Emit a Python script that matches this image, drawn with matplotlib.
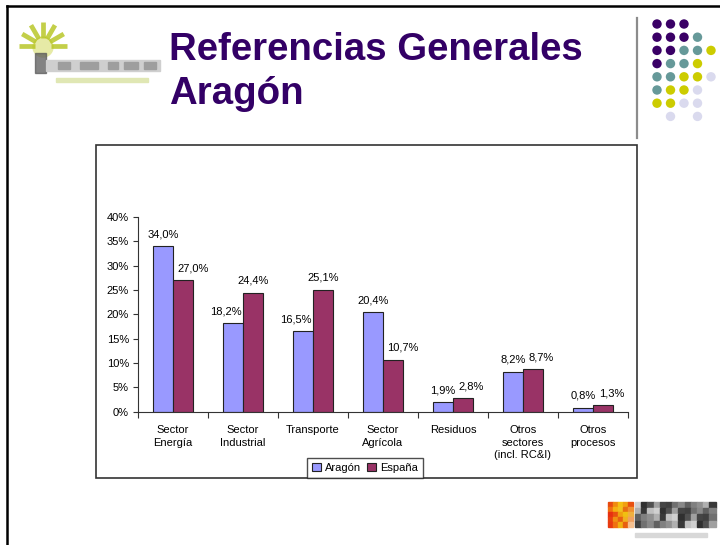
import matplotlib
matplotlib.use("Agg")
import matplotlib.pyplot as plt
import numpy as np
from matplotlib.patches import Rectangle

plt.rcParams['font.family'] = ['Liberation Sans', 'DejaVu Sans']

categories = ["Sector\nEnergía", "Sector\nIndustrial", "Transporte", "Sector\nAgrícola",
              "Residuos", "Otros\nsectores\n(incl. RC&I)", "Otros\nprocesos"]
aragon = [34.0, 18.2, 16.5, 20.4, 1.9, 8.2, 0.8]
espana = [27.0, 24.4, 25.1, 10.7, 2.8, 8.7, 1.3]
yticks = [0, 5, 10, 15, 20, 25, 30, 35, 40]

W, H = 720, 545
fig = plt.figure(figsize=(7.2, 5.45), dpi=100)

# overlay in pixel coordinates for the slide decorations
deco = fig.add_axes([0, 0, 1, 1], zorder=0)
deco.set_xlim(0, W)
deco.set_ylim(H, 0)
deco.axis('off')

# slide border
deco.plot([7, 7], [6, H], color='black', lw=1.8)
deco.plot([7, W], [6, 6], color='black', lw=1.8)

# title
purple = '#330066'
deco.text(169, 60, "Referencias Generales", fontsize=27.6, fontweight='bold',
          color=purple, va='baseline', ha='left')
deco.text(169, 104, "Aragón", fontsize=27.6, fontweight='bold',
          color=purple, va='baseline', ha='left')

# grey divider and dot pattern top right
deco.plot([637, 637], [18, 138], color='#8c8c8c', lw=1.6)
P, T, Y, L = '#3a0066', '#669999', '#cccc00', '#dadaee'
dot_rows = [
    [P, P, P, None, None],
    [P, P, P, T, None],
    [P, P, T, T, Y],
    [P, T, T, Y, None],
    [T, T, Y, Y, L],
    [T, Y, Y, L, None],
    [Y, Y, L, L, None],
    [None, L, None, L, None],
]
col_x = [657, 670.5, 684, 697.5, 711]
for r, row in enumerate(dot_rows):
    for c, col in enumerate(row):
        if col:
            deco.scatter(col_x[c], 24 + r * 13.2, s=46, color=col, edgecolors='none')

# top-left logo (blurred fan + text bar)
cx, cy = 43, 46
for ang in np.radians([0, 30, 60, 90, 120, 150, 180]):
    deco.plot([cx + 8 * np.cos(ang), cx + 24 * np.cos(ang)],
              [cy - 8 * np.sin(ang), cy - 24 * np.sin(ang)],
              color='#b4c31c', lw=3.4, solid_capstyle='butt', alpha=0.8)
deco.add_patch(plt.Circle((cx, cy + 1), 10, color='#e6eaa6'))
deco.add_patch(Rectangle((35, 53), 11, 20, color='#5a5a5a', alpha=0.75))
deco.add_patch(Rectangle((46, 60), 114, 11, color='#cfcfcf'))
for x0, w in [(58, 12), (80, 18), (108, 10), (124, 14), (144, 12)]:
    deco.add_patch(Rectangle((x0, 62), w, 7, color='#9e9e9e'))
deco.add_patch(Rectangle((56, 78), 92, 4, color='#e0e7b4'))

# bottom-right logo
warm = np.array([
    ['#e84a10', '#f08a10', '#f5c010', '#f0a010', '#e85010'],
    ['#f07010', '#f5b010', '#f0c020', '#e87010', '#f09030'],
    ['#e83010', '#e85010', '#f0a010', '#f0c010', '#f0b040'],
    ['#e84010', '#f09010', '#e86010', '#f0b020', '#f0a060'],
    ['#e83a10', '#f07010', '#f0b010', '#e86010', '#f5c090'],
])
for r in range(5):
    for c in range(5):
        deco.add_patch(Rectangle((608 + c * 5, 502 + r * 5), 5, 5, color=warm[r, c]))
greys = ['#d0d0d0', '#404040', '#909090', '#303030', '#707070', '#b0b0b0', '#505050',
         '#888888', '#383838', '#a0a0a0', '#606060', '#c0c0c0', '#454545', '#808080']
for r in range(4):
    for c in range(13):
        deco.add_patch(Rectangle((635 + c * 6.2, 502 + r * 6.2), 6.2, 6.2,
                                 color=greys[(r * 5 + c * 3) % len(greys)]))
deco.add_patch(Rectangle((635, 533), 72, 4, color='#d8d8d8'))

# chart frame
deco.add_patch(Rectangle((96, 145), 541, 333, fill=False, edgecolor='#333333', lw=1.2))

# chart
fs = 8
ax = fig.add_axes([138 / W, 1 - 411.7 / H, 490 / W, (411.7 - 217) / H], zorder=1)
ax.set_facecolor('none')
x = np.arange(len(categories))
bw = 20 / 70
b1 = ax.bar(x - bw / 2, aragon, bw, color='#9999ff', edgecolor='#222222', lw=0.8, label='Aragón')
b2 = ax.bar(x + bw / 2, espana, bw, color='#993366', edgecolor='#222222', lw=0.8, label='España')
labels = []
for bars, vals in [(b1, aragon), (b2, espana)]:
    row = []
    for b, v in zip(bars, vals):
        row.append(ax.annotate(f"{v:.1f}%".replace('.', ','),
                               (b.get_x() + b.get_width() / 2, v),
                               xytext=(0, 5), textcoords='offset points',
                               ha='center', va='bottom', fontsize=fs))
    labels.append(row)

ax.set_xlim(-0.5, len(categories) - 0.5)
ax.set_ylim(0, 40)
ax.set_yticks(yticks)
ax.set_yticklabels([f"{t}%" for t in yticks])
ax.set_xticks(x)
ax.set_xticklabels(categories, linespacing=1.35)
ax.set_xticks(np.arange(len(categories) + 1) - 0.5, minor=True)
ax.tick_params(axis='x', which='major', length=0, pad=9.5, labelsize=fs)
ax.tick_params(axis='x', which='minor', length=4, width=0.8, color='#333333')
ax.tick_params(axis='y', length=3.5, width=0.8, pad=3, labelsize=fs, color='#333333')
for s in ['top', 'right']:
    ax.spines[s].set_visible(False)
for s in ['left', 'bottom']:
    ax.spines[s].set_color('#333333')
    ax.spines[s].set_linewidth(0.8)

fig.legend(handles=[b1, b2], loc='lower center', ncol=2,
           bbox_to_anchor=(365 / W, 1 - 478 / H), frameon=True, fancybox=False,
           edgecolor='#222222', fontsize=fs, handlelength=0.8, handleheight=0.8,
           handletextpad=0.3, columnspacing=0.6, borderpad=0.45, borderaxespad=0)

# nudge value labels sideways so they avoid each other and the taller bar
fig.canvas.draw()
rend = fig.canvas.get_renderer()
px2pt = 72 / fig.dpi
for i in x:
    la, le = labels[0][i], labels[1][i]
    ba, be = la.get_window_extent(rend), le.get_window_extent(rend)
    edge = ax.transData.transform((i, 0))[0]
    if ba.y0 < be.y1 and be.y0 < ba.y1:
        shift = ba.x1 + 3 - be.x0
        if shift > 0:
            le.set_position((shift * px2pt, 5))
    elif aragon[i] < espana[i]:
        shift = ba.x1 - (edge - 1)
        if shift > 0:
            la.set_position((-shift * px2pt, 5))
    else:
        shift = (edge + 4) - be.x0
        if shift > 0:
            le.set_position((shift * px2pt, 5))

fig.savefig("out.png", dpi=100)
